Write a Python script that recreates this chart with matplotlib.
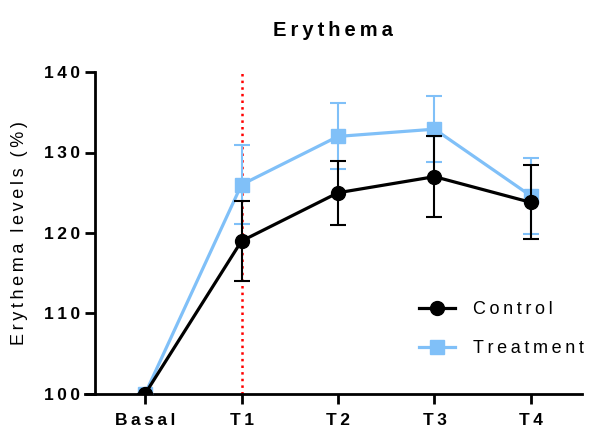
import numpy as np
import matplotlib
matplotlib.use("Agg")
from matplotlib import pyplot as plt
from matplotlib.lines import Line2D

plt.rcParams['font.family'] = ['Liberation Sans', 'DejaVu Sans']

times = ["Basal", "T1", "T2", "T3", "T4"]
control = [100, 119, 125, 127, 123.8]
control_err = [0, 5, 4, 5, 4.6]
treatment = [100, 126, 132, 132.9, 124.6]
treatment_err = [0, 4.9, 4.1, 4.1, 4.7]
yticks = [100, 110, 120, 130, 140]

blue = '#80c0f8'
x = np.arange(len(times))

def spaced(s):
    # the original chart uses wide letter spacing -> thin spaces between letters
    return "\u2009\u2009\u2009".join("\u2009".join(w) for w in s.split(" "))

fig = plt.figure(figsize=(5.92, 4.30), dpi=100)
ax = fig.add_axes([85/592, 1-394/430, (582-85)/592, (394-72)/430])

ax.axvline(1, color='red', ls=':', lw=1.8, zorder=1)

ax.errorbar(x, treatment, yerr=treatment_err, color=blue, marker='s', ms=9.5,
            lw=2.3, elinewidth=1.5, capsize=6, capthick=1.5, zorder=3)
ax.errorbar(x, control, yerr=control_err, color='black', marker='o', ms=10,
            lw=2.3, elinewidth=1.5, capsize=6, capthick=1.5, zorder=4)

ax.set_xlim((85-145)/96.5, (582-145)/96.5)
ax.set_ylim(100, 140)
ax.set_yticks(yticks)
ax.set_yticklabels([spaced(str(v)) for v in yticks])
ax.set_xticks(x)
ax.set_xticklabels([spaced(t) for t in times])

for s in ['top', 'right']:
    ax.spines[s].set_visible(False)
ax.spines['left'].set_position(('data', (95-145)/96.5))
ax.spines['left'].set_linewidth(2)
ax.spines['bottom'].set_linewidth(2)
ax.tick_params(direction='out', length=7, width=2, labelsize=12.5)
ax.tick_params(axis='x', pad=7)
ax.tick_params(axis='y', pad=4)
for lab in ax.get_xticklabels() + ax.get_yticklabels():
    lab.set_fontweight('bold')

ax.set_ylabel(spaced('Erythema levels (%)'), fontsize=13)
ax.yaxis.set_label_coords((28-85)/497, 0.5)
fig.text(333/592, 1-30/430, spaced('Erythema'), ha='center', va='center',
         fontsize=14.5, fontweight='bold')

handles = [Line2D([], [], color='black', marker='o', ms=10, lw=2.3),
           Line2D([], [], color=blue, marker='s', ms=9.5, lw=2.3)]
ax.legend(handles, [spaced('Control'), spaced('Treatment')], loc='upper left',
          frameon=False, fontsize=13, bbox_to_anchor=((403-85)/497, 1-(285-72)/322),
          handlelength=2.0, labelspacing=1.2, handletextpad=1.0)

plt.savefig('out.png', dpi=100)
